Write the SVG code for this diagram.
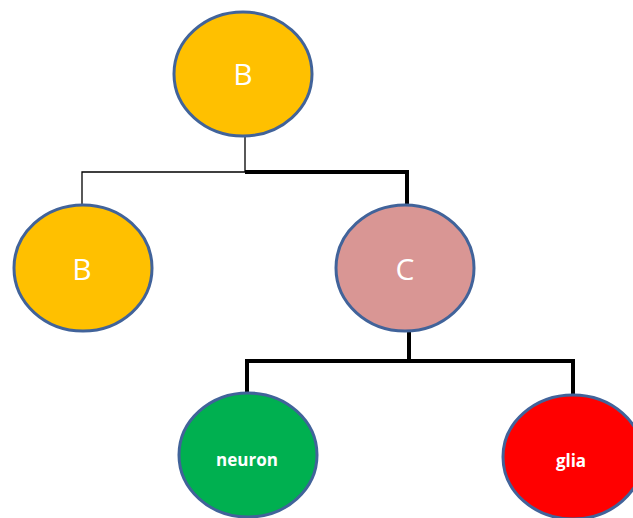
<svg xmlns="http://www.w3.org/2000/svg" width="633" height="518" viewBox="0 0 633 518">
<style>
.n{stroke:#41639a;stroke-width:3}
.t{fill:#fff;font-family:"Open Sans","Liberation Sans",sans-serif;text-anchor:middle}
.big{font-size:30px}
.small{font-size:17px;font-weight:bold}
.thin{fill:none;stroke:#000;stroke-width:1.3}
.thick{fill:none;stroke:#000;stroke-width:4}
</style>
<rect width="633" height="518" fill="#fff"/>
<g id="connectors">
<path class="thin" d="M245 137V172H82V205"/>
<path class="thick" d="M245 172H407V205"/>
<path class="thick" d="M409 331V361H247V393"/>
<path class="thick" d="M409 361H573V395"/>
</g>
<g id="nodeB1"><ellipse class="n" cx="243" cy="74" rx="69" ry="62" fill="#ffc000"/><text class="t big" x="243" y="85">B</text></g>
<g id="nodeB2"><ellipse class="n" cx="83" cy="268" rx="69" ry="63" fill="#ffc000"/><text class="t big" x="82" y="280">B</text></g>
<g id="nodeC"><ellipse class="n" cx="405" cy="268" rx="69" ry="63" fill="#d99694"/><text class="t big" x="405" y="280">C</text></g>
<g id="nodeNeuron"><ellipse class="n" cx="248" cy="455" rx="69" ry="62" fill="#00b050"/><text class="t small" x="247" y="466">neuron</text></g>
<g id="nodeGlia"><ellipse class="n" cx="573" cy="457" rx="70" ry="62" fill="#ff0000"/><text class="t small" x="571" y="467">glia</text></g>
</svg>
